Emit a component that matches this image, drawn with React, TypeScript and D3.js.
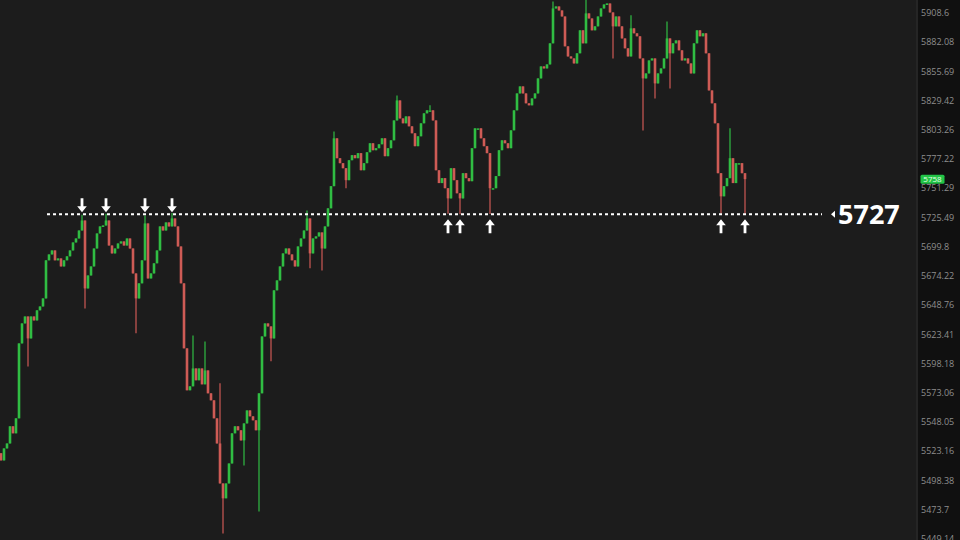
import React from "react";
import * as d3 from "d3";

// ---------- data ----------
const firstOpen = 5520.2;
const closes: number[] = [
  5514.1, 5524.3, 5528.5, 5543.1, 5537.1, 5549.9, 5614.3, 5631.6, 5637.6, 5618.6,
  5637.6, 5634.2, 5642.9, 5646.3, 5653.3, 5686.5, 5691.7, 5695.2, 5686.5, 5688.2,
  5681.2, 5686.5, 5690.0, 5695.2, 5702.2, 5705.7, 5712.7, 5721.5, 5662.0, 5673.3,
  5681.2, 5696.9, 5710.1, 5716.3, 5717.1, 5721.5, 5699.5, 5692.6, 5696.9, 5701.3,
  5703.1, 5699.5, 5705.7, 5696.9, 5675.1, 5653.3, 5666.4, 5686.5, 5718.9, 5670.7,
  5675.1, 5683.9, 5695.2, 5716.3, 5712.7, 5719.8, 5716.3, 5723.3, 5716.3, 5698.7,
  5666.4, 5610.0, 5573.9, 5577.3, 5592.7, 5582.5, 5592.7, 5579.0, 5591.0, 5571.3,
  5565.3, 5549.9, 5528.5, 5494.6, 5482.0, 5494.6, 5511.5, 5537.1, 5543.1, 5539.7,
  5531.1, 5545.6, 5556.7, 5551.6, 5548.2, 5539.7, 5571.3, 5620.3, 5631.6, 5629.0,
  5618.6, 5660.3, 5669.0, 5681.2, 5692.6, 5696.9, 5691.7, 5686.5, 5681.2, 5698.7,
  5705.7, 5712.7, 5723.3, 5692.6, 5705.7, 5707.5, 5711.0, 5696.9, 5716.3, 5732.2,
  5751.8, 5794.3, 5776.6, 5772.2, 5767.7, 5757.1, 5774.8, 5779.3, 5776.6, 5781.1,
  5765.9, 5772.2, 5781.9, 5789.9, 5783.7, 5785.5, 5789.0, 5794.3, 5778.4, 5785.5,
  5792.5, 5810.3, 5828.2, 5812.1, 5807.7, 5813.9, 5805.0, 5798.8, 5787.3, 5796.1,
  5807.7, 5816.6, 5819.3, 5819.3, 5810.3, 5765.9, 5754.5, 5758.9, 5750.0, 5741.0,
  5767.7, 5757.1, 5745.5, 5741.0, 5763.3, 5758.9, 5756.2, 5785.5, 5803.2, 5803.2,
  5794.3, 5787.3, 5781.1, 5750.0, 5750.0, 5760.7, 5783.7, 5792.5, 5789.9, 5785.5,
  5801.4, 5819.3, 5834.5, 5840.8, 5834.5, 5825.6, 5823.8, 5830.0, 5834.5, 5848.0,
  5858.8, 5857.0, 5860.6, 5879.6, 5911.3, 5913.1, 5909.5, 5904.0, 5876.9, 5867.8,
  5866.0, 5861.5, 5870.6, 5891.4, 5879.6, 5906.8, 5902.2, 5891.4, 5895.0, 5904.0,
  5911.3, 5914.9, 5915.8, 5907.7, 5895.0, 5904.0, 5895.0, 5884.1, 5875.1, 5867.8,
  5893.2, 5888.7, 5886.0, 5866.0, 5848.0, 5852.5, 5864.2, 5866.0, 5843.5, 5852.5,
  5857.0, 5866.0, 5884.1, 5870.6, 5879.6, 5882.3, 5873.3, 5864.2, 5866.0, 5861.5,
  5852.5, 5879.6, 5891.4, 5886.0, 5888.7, 5870.6, 5837.2, 5825.6, 5807.7, 5763.3,
  5742.8, 5751.8, 5758.9, 5776.6, 5754.5, 5772.2, 5772.2, 5763.3, 5758.0,
];

// explicit wick extremes [candle index, price]
const wickHighs: [number, number][] = [
  [27, 5726.5], [35, 5727.5], [48, 5726.0], [57, 5728.0], [64, 5621.2], [68, 5616.0],
  [73, 5579.9], [102, 5730.4], [111, 5800.5], [132, 5832.7], [143, 5823.8],
  [184, 5917.6], [195, 5919.5], [210, 5905.0], [222, 5899.5], [243, 5803.2],
];
const wickLows: [number, number][] = [
  [9, 5594.4], [28, 5644.6], [45, 5623.0], [74, 5452.5], [81, 5509.8], [86, 5471.0],
  [90, 5598.8], [103, 5679.5], [107, 5677.7], [115, 5750.0], [149, 5727.5],
  [153, 5727.0], [163, 5727.3], [204, 5866.0], [214, 5801.3], [218, 5830.0],
  [223, 5839.0], [240, 5727.5], [248, 5727.0],
];

const resistanceTouches = [27, 35, 48, 57];
const supportTouches = [149, 153, 163, 240, 248];
const levelPrice = 5727;
const lastPrice = 5758;

const axisTicks = [
  5908.6, 5882.08, 5855.69, 5829.42, 5803.26, 5777.22, 5751.29, 5725.49, 5699.8,
  5674.22, 5648.76, 5623.41, 5598.18, 5573.06, 5548.05, 5523.16, 5498.38, 5473.7, 5449.14,
];

// ---------- layout ----------
const W = 960;
const H = 540;
const plotRight = 918;
const GREEN = "#33cf48";
const RED = "#e2625c";

export default function App() {
  const n = closes.length;
  const x = d3.scaleLinear().domain([0, n - 1]).range([1, 745]);
  const y = d3.scaleLog().domain([5449.14, 5908.6]).range([537.4, 11.4]);

  const hiMap = new Map(wickHighs);
  const loMap = new Map(wickLows);
  const candles = closes.map((c, i) => {
    const o = i === 0 ? firstOpen : closes[i - 1];
    const h = Math.max(o, c, hiMap.get(i) ?? -Infinity);
    const l = Math.min(o, c, loMap.get(i) ?? Infinity);
    return { i, o, c, h, l, up: c >= o };
  });

  const levelY = y(levelPrice);
  const bodyW = 2.6;

  return (
    <svg
      width={W}
      height={H}
      style={{ position: "absolute", left: 0, top: 0, display: "block" }}
      fontFamily="'Open Sans', 'Noto Sans', sans-serif"
    >
      <rect x={0} y={0} width={W} height={H} fill="#1c1c1c" />
      <rect x={plotRight} y={0} width={W - plotRight} height={H} fill="#101010" />
      <line x1={plotRight - 1} x2={plotRight - 1} y1={0} y2={H} stroke="#252525" strokeWidth={2} />

      {/* candles */}
      <g>
        {candles.map((d) => {
          const cx = x(d.i);
          const col = d.up ? GREEN : RED;
          const top = y(Math.max(d.o, d.c));
          const bot = y(Math.min(d.o, d.c));
          return (
            <g key={d.i} opacity={0.9}>
              <line x1={cx} x2={cx} y1={y(d.h)} y2={y(d.l)} stroke={col} strokeWidth={1.2} />
              <rect x={cx - bodyW / 2} y={top} width={bodyW} height={Math.max(1.5, bot - top)} fill={col} />
            </g>
          );
        })}
      </g>

      {/* level line */}
      <line
        x1={47}
        x2={822}
        y1={levelY}
        y2={levelY}
        stroke="#ffffff"
        strokeWidth={2}
        strokeDasharray="3 3"
      />
      <path
        d={`M${831},${levelY} L${835},${levelY - 3.5} L${835},${levelY + 3.5} Z`}
        fill="#ffffff"
      />
      <text x={838} y={levelY + 10} fill="#ffffff" fontSize={27} fontWeight={700}>
        {levelPrice}
      </text>

      {/* touch arrows */}
      {resistanceTouches.map((i) => {
        const cx = x(i);
        const t = levelY - 16;
        return (
          <path
            key={"r" + i}
            d={`M${cx - 1.4},${t} L${cx + 1.4},${t} L${cx + 1.4},${t + 8} L${cx + 4.8},${t + 8} L${cx},${t + 14} L${cx - 4.8},${t + 8} L${cx - 1.4},${t + 8} Z`}
            fill="#ffffff"
          />
        );
      })}
      {supportTouches.map((i) => {
        const cx = x(i);
        const t = levelY + 5;
        return (
          <path
            key={"s" + i}
            d={`M${cx},${t} L${cx + 4.8},${t + 6} L${cx + 1.4},${t + 6} L${cx + 1.4},${t + 14} L${cx - 1.4},${t + 14} L${cx - 1.4},${t + 6} L${cx - 4.8},${t + 6} Z`}
            fill="#ffffff"
          />
        );
      })}

      {/* axis labels */}
      {axisTicks.map((v) => (
        <text key={v} x={921} y={y(v) + 1.6} dy="0.35em" fill="#8e8e8e" fontSize={9}>
          {v}
        </text>
      ))}

      {/* last price tag */}
      <rect x={920.5} y={y(lastPrice) - 4.5} width={24} height={9} rx={1.5} fill="#22c447" />
      <text x={932.5} y={y(lastPrice)} dy="0.35em" textAnchor="middle" fill="#e8ffe8" fontSize={8}>
        {lastPrice}
      </text>
    </svg>
  );
}
